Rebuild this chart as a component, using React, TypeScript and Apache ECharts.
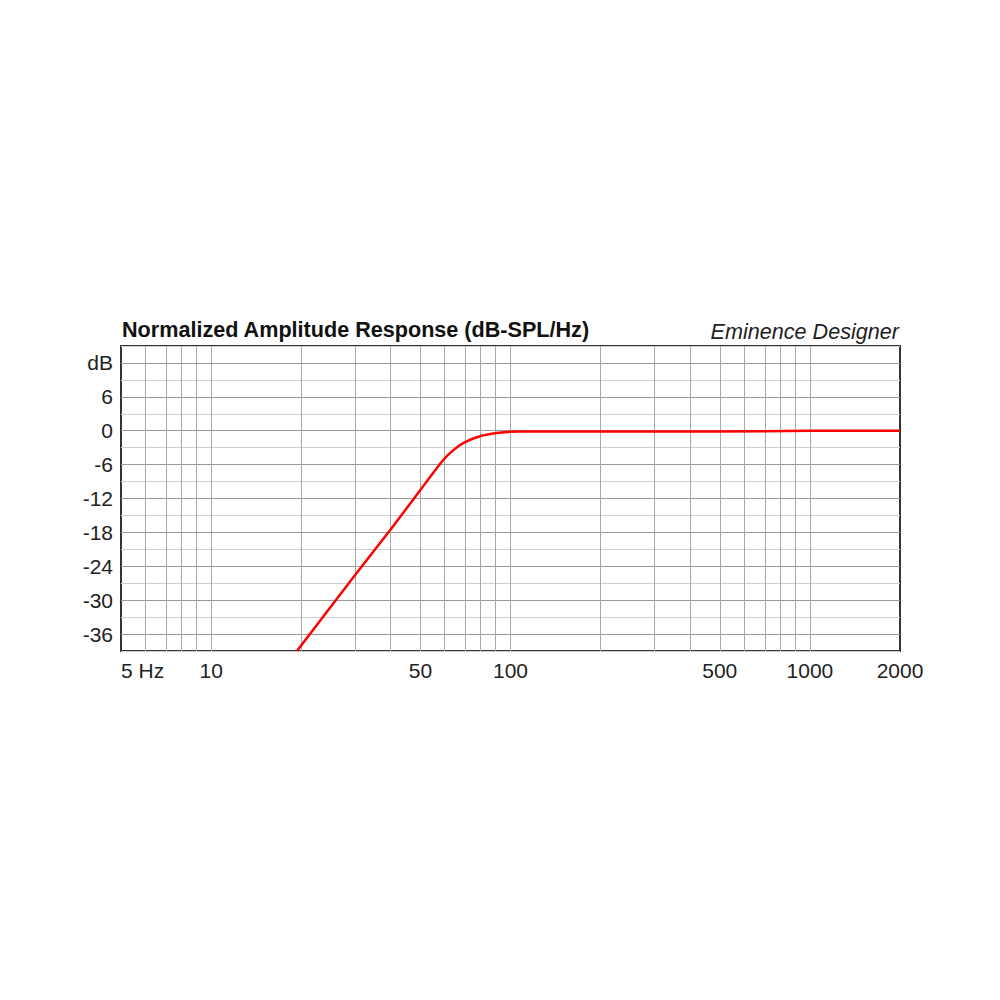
import React, { useEffect, useRef } from "react";
import * as echarts from "echarts";

// Frequency response readings (Hz, dB)
const freqs = [19.35, 30, 40, 50, 54.4, 60, 64.9, 70, 80, 90, 100, 106, 200, 490, 1000, 2000];
const dbValues = [-39, -25.8, -17.3, -10.5, -7.9, -5.0, -3.3, -2.1, -0.9, -0.4, -0.2, -0.15, -0.15, -0.15, 0, 0];

// vertical grid frequencies
const gridFreqs = [6, 7, 8, 9, 10, 20, 30, 40, 50, 60, 70, 80, 90, 100, 200, 300, 400, 500, 600, 700, 800, 900, 1000];
// x tick labels
const xLabelFreqs = [5, 10, 50, 100, 500, 1000, 2000];

const titleText = "Normalized Amplitude Response (dB-SPL/Hz)";
const brandText = "Eminence Designer";

const FONT = "'Liberation Sans', Arial, Helvetica, sans-serif";

export default function App() {
  const ref = useRef<HTMLDivElement>(null);
  useEffect(() => {
    document.body.style.margin = "0";
    const chart = echarts.init(ref.current!, null, { renderer: "svg" });
    const lg = (f: number) => Math.log10(f);
    chart.setOption({
      animation: false,
      backgroundColor: "#ffffff",
      title: [
        {
          text: titleText,
          left: 122,
          top: 318,
          padding: 0,
          textStyle: { fontFamily: FONT, fontSize: 21.6, fontWeight: "bold", color: "#111" },
        },
        {
          text: brandText,
          right: 101,
          top: 320,
          padding: 0,
          textStyle: { fontFamily: FONT, fontSize: 21.6, fontWeight: "normal", fontStyle: "italic", color: "#222" },
        },
      ],
      grid: {
        left: 121,
        right: 100,
        top: 346,
        bottom: 349,
        show: true,
        borderColor: "#333",
        borderWidth: 2,
        backgroundColor: "#fff",
      },
      xAxis: {
        type: "value",
        min: lg(5),
        max: lg(2000),
        axisLine: { show: false },
        axisTick: { show: false },
        splitLine: { show: false },
        axisLabel: {
          customValues: xLabelFreqs.map(lg),
          formatter: (v: number) => {
            const f = Math.round(Math.pow(10, v));
            return f === 5 ? "5 Hz" : String(f);
          },
          alignMinLabel: "left",
          margin: 9,
          fontFamily: FONT,
          fontSize: 21,
          color: "#222",
        },
      },
      yAxis: {
        type: "value",
        min: -39,
        max: 15,
        interval: 3,
        axisLine: { show: false },
        axisTick: { show: false },
        splitLine: { show: true, lineStyle: { color: ["#cfcfcf", "#9a9a9a"], width: 1 } },
        axisLabel: {
          formatter: (v: number) => (v === 12 ? "dB" : v % 6 === 0 && v < 12 ? String(v) : ""),
          margin: 8,
          fontFamily: FONT,
          fontSize: 21,
          color: "#222",
        },
      },
      series: [
        {
          type: "line",
          data: freqs.map((f, i) => [lg(f), dbValues[i]]),
          showSymbol: false,
          smooth: 0.3,
          lineStyle: { color: "#ff0000", width: 2.5 },
          z: 5,
          markLine: {
            silent: true,
            symbol: "none",
            label: { show: false },
            lineStyle: { color: "#a8a8a8", type: "solid", width: 1 },
            data: gridFreqs.map((f) => ({ xAxis: lg(f) })),
            z: 1,
          },
        },
      ],
    });
    return () => chart.dispose();
  }, []);
  return <div ref={ref} style={{ position: "absolute", left: 0, top: 0, width: 1000, height: 1000 }} />;
}
